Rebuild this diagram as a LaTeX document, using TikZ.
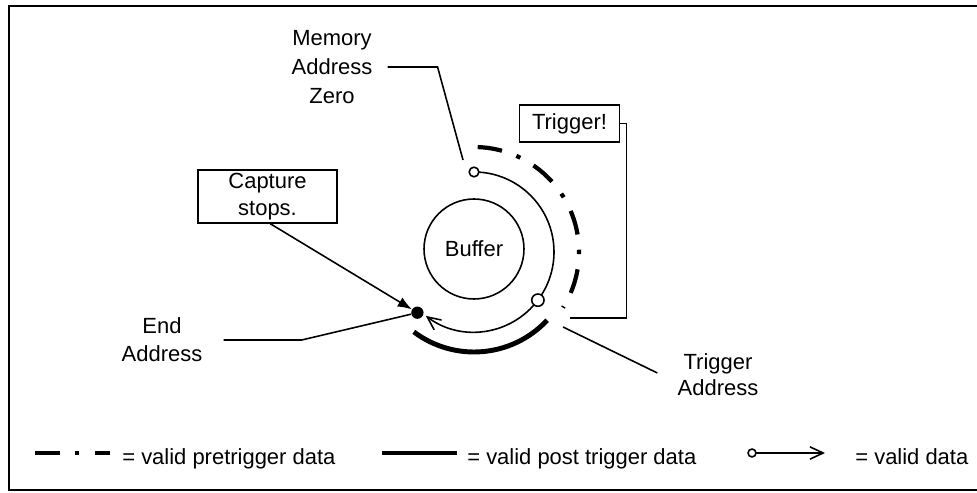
\documentclass[tikz,border=0pt]{standalone}
\usepackage{fontspec}
\setmainfont{Liberation Sans}
\usetikzlibrary{arrows.meta}

\begin{document}
\begin{tikzpicture}[x=0.02cm,y=0.02cm,
    font=\fontsize{12.5}{15.5}\selectfont,
    txt/.style={align=center,inner sep=0pt},
    box/.style={draw,line width=0.9pt,align=center,inner sep=0pt},
    lead/.style={line width=0.9pt},
    pre/.style={line width=2.4pt,dash pattern=on 14pt off 8.7pt on 2.5pt off 8.7pt},
    post/.style={line width=2.8pt},
    data/.style={line width=0.9pt},
    barb/.style={-{Straight Barb[length=7.5pt,width=7pt]}},
    ring/.style={draw,circle,fill=white,line width=0.9pt,inner sep=0pt}]
    \useasboundingbox (0,0) rectangle (977,493);
    \draw[line width=1.1pt] (977,487) -- (9,487) -- (9,3) -- (977,3);

    % buffer and the three rings round it
    \node[draw,circle,minimum size=2cm,line width=0.9pt] (buf) at (474,244) {Buffer};
    \coordinate (c) at (474,241);
    \coordinate (zero) at ([shift={(90:80)}]c);
    \coordinate (trg) at ([shift={(-37:80)}]c);
    \coordinate (pre0) at ([shift={(88:105)}]c);
    \coordinate (post0) at ([shift={(-127:100)}]c);
    \draw[pre] (pre0) arc[start angle=88, end angle=-32, radius=105];
    \draw[post] (post0) arc[start angle=-127, end angle=-43, radius=100];
    \draw[data] (zero) arc[start angle=90, end angle=-37, radius=80];
    \draw[data,barb] (trg) arc[start angle=-37, end angle=-127, radius=80];
    \node[ring,minimum size=5.5pt] (z) at (zero) {};
    \node[ring,minimum size=7pt] (t) at (trg) {};
    \node[circle,fill,inner sep=0pt,minimum size=7pt] (e) at ([shift={(-133:83)}]c) {};

    % labels
    \node[txt,font=\fontsize{12.5}{16.7}\selectfont] (mem) at (332,426) {Memory\\Address\\Zero};
    \coordinate (m3) at (463,333);
    \draw[lead] ([xshift=8.5pt]mem.east) -- ++(50,0) -- (m3);

    \node[box,minimum width=57pt,minimum height=21pt] (trig) at (569.5,369.5) {Trigger!};
    \coordinate (tadd) at (570,175);
    \draw[lead] (trig.east) -- ++(6,0) |- (tadd);

    \node[txt,font=\fontsize{12.5}{14.7}\selectfont] (trad) at (718,118) {Trigger\\Address};
    \coordinate (ta) at (563,166);
    \draw[lead] (ta) -- ([shift={(-20,2)}]trad.west);

    \node[box,minimum width=79pt,minimum height=30pt] (cap) at (267.5,296.5) {Capture\\stops.};
    \draw[lead,-{Latex[length=8pt,width=6pt]}] ([xshift=1.5pt]cap.south) -- ([shift={(-5,16)}]e);

    \node[txt,font=\fontsize{12.5}{15.9}\selectfont] (endad) at (162,153) {End\\Address};
    \draw[lead] ([xshift=12pt]endad.east) -- ++(78,0) -- ([shift={(-18,-3)}]e);

    % legend
    \coordinate (l1) at (35,40);
    \coordinate (l2) at (110,40);
    \coordinate (l3) at (382,40);
    \coordinate (l4) at (457,40);
    \coordinate (l5) at (752,40);
    \coordinate (l6) at (825,40);
    \draw[pre] (l1) -- (l2);
    \node[anchor=base west,inner sep=0pt] (lpre) at (122,28) {= valid pretrigger data};
    \draw[post] (l3) -- (l4);
    \node[anchor=base west,inner sep=0pt] (lpost) at (467,28) {= valid post trigger data};
    \draw[data,barb] (l5) -- (l6);
    \node[ring,minimum size=4.5pt] (lr) at (l5) {};
    \node[anchor=base west,inner sep=0pt] (ldata) at (855,28) {= valid data};
\end{tikzpicture}
\end{document}
